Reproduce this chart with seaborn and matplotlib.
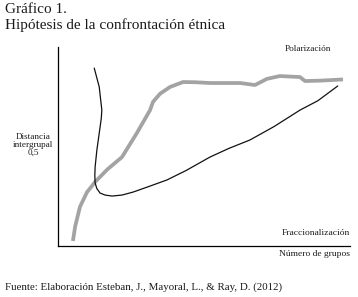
import matplotlib
matplotlib.use("Agg")
import matplotlib.pyplot as plt
import seaborn as sns
import pandas as pd

# Data (axis units 0-100)
polar_x = [5.2, 6.0, 7.6, 10.0, 12.8, 17.0, 22.0, 27.1, 31.6, 32.6, 35.0, 38.4, 42.9, 47.0, 52.1, 57.0, 62.4, 67.5, 71.6, 76.0, 82.9, 84.6, 90.0, 97.6]
polar_y = [2.5, 10.0, 19.6, 27.0, 32.2, 38.5, 44.7, 56.8, 68.3, 72.4, 76.5, 79.9, 82.4, 82.3, 81.9, 81.9, 81.9, 80.9, 84.0, 85.4, 84.9, 82.9, 83.1, 83.7]
frac_x = [12.5, 14.2, 15.1, 14.9, 14.5, 13.4, 12.8, 12.7, 12.8, 13.4, 14.5, 16.2, 18.6, 22.0, 25.8, 31.0, 37.4, 44.0, 52.1, 58.5, 65.8, 74.0, 82.9, 89.0, 95.8]
frac_y = [89.4, 80.0, 68.3, 64.0, 59.8, 48.2, 39.7, 35.5, 31.7, 28.8, 26.6, 25.6, 25.1, 25.6, 27.1, 29.8, 33.2, 38.0, 44.7, 49.0, 53.3, 60.0, 68.3, 73.0, 80.4]

title1 = "Gráfico 1."
title2 = "Hipótesis de la confrontación étnica"
ylab = "Distancia\nintergrupal\n0,5"
lab_pol = "Polarización"
lab_frac = "Fraccionalización"
xlab = "Número de grupos"
source = "Fuente: Elaboración Esteban, J., Mayoral, L., & Ray, D. (2012)"

sns.set_style("white")
plt.rcParams['font.family'] = ['Liberation Serif', 'DejaVu Serif']

W, H = 358, 297
fig = plt.figure(figsize=(W / 100, H / 100), dpi=100)
ax = fig.add_axes([57.7 / W, 1 - 246 / H, 292.3 / W, 199 / H])

df_p = pd.DataFrame({"x": polar_x, "y": polar_y})
df_f = pd.DataFrame({"x": frac_x, "y": frac_y})
sns.lineplot(data=df_p, x="x", y="y", sort=False, estimator=None, ax=ax,
             color="#a3a3a3", linewidth=2.7, solid_capstyle="butt")
sns.lineplot(data=df_f, x="x", y="y", sort=False, estimator=None, ax=ax,
             color="#111111", linewidth=0.9)

ax.set_xlim(0, 100)
ax.set_ylim(0, 100)
ax.set_xticks([])
ax.set_yticks([])
ax.set_xlabel("")
ax.set_ylabel("")
for s in ["top", "right"]:
    ax.spines[s].set_visible(False)
for s in ["left", "bottom"]:
    ax.spines[s].set_color("black")
    ax.spines[s].set_linewidth(0.9)

def ft(x, y, s, size, ha="left", va="center", **kw):
    fig.text(x / W, 1 - y / H, s, fontsize=size, ha=ha, va=va, color="#1a1a1a", **kw)

ft(5, 9.5, title1, 11.0)
ft(5, 25.5, title2, 11.0)
ft(307.5, 49, lab_pol, 6.7, ha="center")
ft(350, 233, lab_frac, 6.8, ha="right")
ft(350, 254, xlab, 6.8, ha="right")
ft(33, 145, ylab, 6.6, ha="center", multialignment="center", linespacing=1.0)
ft(5, 287, source, 7.8)

fig.savefig("out.png", dpi=100)
